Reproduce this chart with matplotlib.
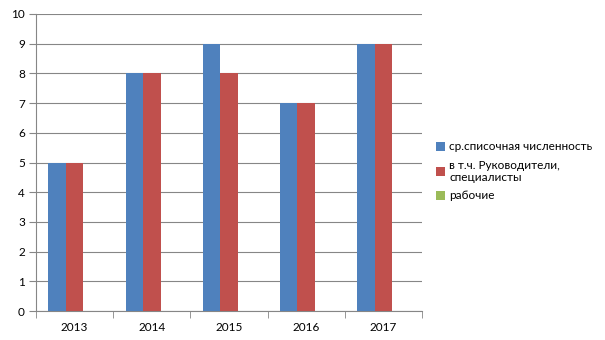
import numpy as np
import matplotlib.pyplot as plt

years = ['2013', '2014', '2015', '2016', '2017']
total = [5, 8, 9, 7, 9]
managers = [5, 8, 8, 7, 9]
workers = [0, 0, 0, 0, 0]
labels = ['ср.списочная численность', 'в т.ч. Руководители,\nспециалисты', 'рабочие']
colors = ['#4f81bd', '#c0504d', '#9bbb59']

plt.rcParams['font.family'] = ['Lato', 'DejaVu Sans']

fig = plt.figure(figsize=(6.05, 3.4), dpi=100)
ax = fig.add_axes([36/605, 29/340, 386/605, 297/340])

x = np.arange(len(years))
w = 0.227
for i, (vals, lab, col) in enumerate(zip([total, managers, workers], labels, colors)):
    ax.bar(x + (i - 1) * w, vals, w, color=col, label=lab, zorder=3)

ax.set_xlim(-0.5, len(years) - 0.5)
ax.set_ylim(0, 10)
ax.set_yticks(range(11))
ax.set_xticks(x)
ax.set_xticklabels(years)
ax.set_xticks(np.arange(-0.5, len(years)), minor=True)
ax.tick_params(axis='x', which='major', length=0, pad=8, labelsize=8.5)
ax.tick_params(axis='x', which='minor', length=5, color='#868686')
ax.tick_params(axis='y', length=5, color='#868686', labelsize=8.5, pad=3)
ax.grid(axis='y', color='#868686', linewidth=0.8, zorder=0)
for s in ['top', 'right']:
    ax.spines[s].set_visible(False)
for s in ['left', 'bottom']:
    ax.spines[s].set_color('#868686')

ax.legend(loc='center left', bbox_to_anchor=(1.01, 0.47), frameon=False,
          fontsize=8.5, handlelength=0.75, handleheight=0.75, handletextpad=0.35,
          labelspacing=0.6)

fig.savefig('out.png', dpi=100)
